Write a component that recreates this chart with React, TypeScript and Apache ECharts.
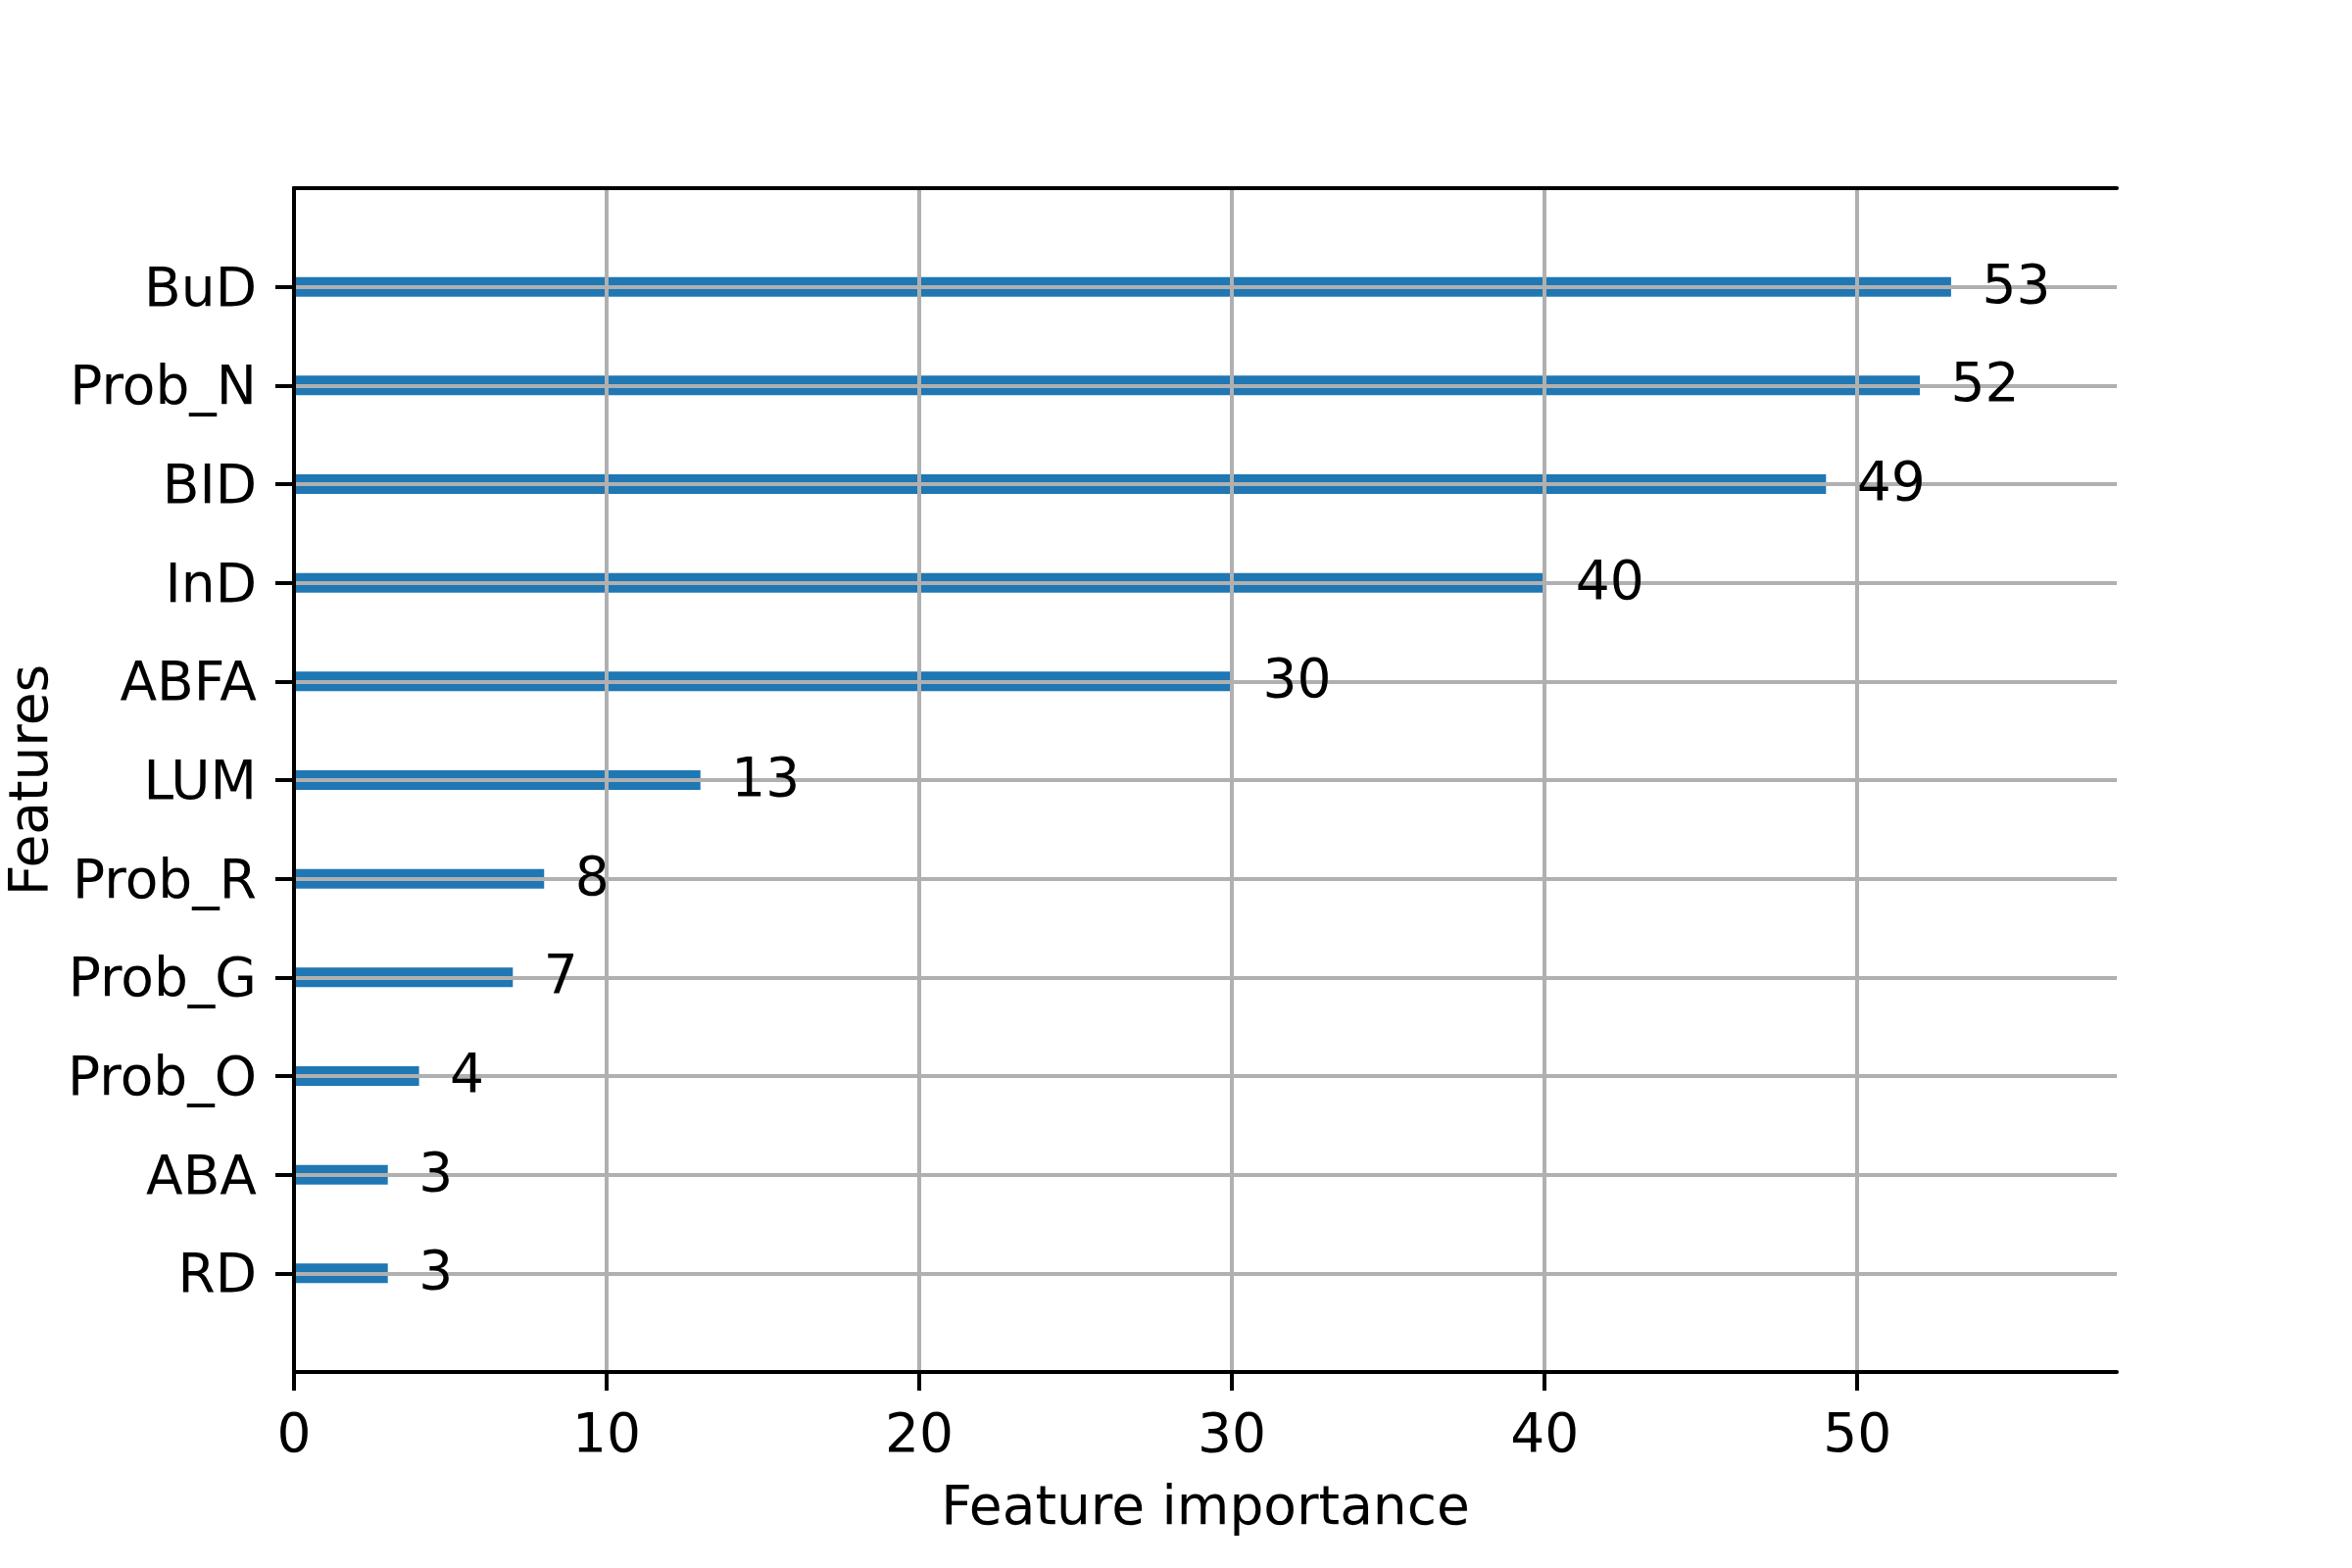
import React, { useEffect, useRef } from "react";
import * as echarts from "echarts";

// Features from bottom to top, with their importance values
const features = ["RD", "ABA", "Prob_O", "Prob_G", "Prob_R", "LUM", "ABFA", "InD", "BID", "Prob_N", "BuD"];
const importance = [3, 3, 4, 7, 8, 13, 30, 40, 49, 52, 53];
const xTicks = [0, 10, 20, 30, 40, 50];
const xMax = 58.3;

const FONT = "DejaVu Sans";
const FS = 55;
const BLUE = "#1f77b4";
const GRID = "#b0b0b0";

export default function App() {
  const ref = useRef<HTMLDivElement>(null);

  useEffect(() => {
    if (!ref.current) return;
    const chart = echarts.init(ref.current, null, { renderer: "svg" });
    const cats = ["", ...features, ""];
    const barData = [null, ...importance, null];
    const labelData = features.map((f, i) => [importance[i], f]);

    const option: any = {
      animation: false,
      backgroundColor: "#ffffff",
      textStyle: { fontFamily: FONT },
      grid: { left: 300, right: 240, top: 192, bottom: 200, containLabel: false, outerBoundsMode: "none" },
      xAxis: [
        {
          type: "value",
          min: 0,
          max: xMax,
          interval: 10,
          position: "bottom",
          z: 5,
          name: "Feature importance",
          nameLocation: "middle",
          nameGap: 108,
          nameTextStyle: { fontFamily: FONT, fontSize: FS, color: "#000" },
          axisLine: { show: true, lineStyle: { color: "#000", width: 4 } },
          axisTick: { show: true, length: 19, lineStyle: { color: "#000", width: 4 }, customValues: xTicks },
          axisLabel: { show: true, margin: 34, fontFamily: FONT, fontSize: FS, color: "#000", customValues: xTicks },
          splitLine: { show: true, lineStyle: { color: GRID, width: 4 } },
        },
        {
          type: "value",
          min: 0,
          max: xMax,
          position: "top",
          z: 5,
          axisLine: { show: true, lineStyle: { color: "#000", width: 4 } },
          axisTick: { show: false },
          axisLabel: { show: false },
          splitLine: { show: false },
        },
      ],
      yAxis: [
        {
          type: "category",
          data: cats,
          boundaryGap: false,
          position: "left",
          z: 5,
          name: "Features",
          nameLocation: "middle",
          nameRotate: 90,
          nameGap: 244,
          nameTextStyle: { fontFamily: FONT, fontSize: FS, color: "#000" },
          axisLine: { show: true, lineStyle: { color: "#000", width: 4 } },
          axisTick: {
            show: true,
            length: 19,
            lineStyle: { color: "#000", width: 4 },
            interval: (idx: number, val: string) => val !== "",
          },
          axisLabel: {
            show: true,
            margin: 38,
            fontFamily: FONT,
            fontSize: FS,
            color: "#000",
            interval: (idx: number, val: string) => val !== "",
          },
          splitLine: {
            show: true,
            lineStyle: { color: GRID, width: 4 },
            interval: (idx: number, val: string) => val !== "",
          },
        },
        {
          type: "category",
          data: cats,
          boundaryGap: false,
          position: "right",
          z: 5,
          axisLine: { show: true, lineStyle: { color: "#000", width: 4 } },
          axisTick: { show: false },
          axisLabel: { show: false },
          splitLine: { show: false },
        },
      ],
      series: [
        {
          type: "bar",
          xAxisIndex: 0,
          yAxisIndex: 0,
          data: barData,
          barWidth: 20,
          z: 1,
          itemStyle: { color: BLUE },
          silent: true,
        },
        {
          type: "scatter",
          xAxisIndex: 0,
          yAxisIndex: 0,
          data: labelData,
          symbolSize: 1,
          itemStyle: { color: "rgba(0,0,0,0)" },
          z: 10,
          label: {
            show: true,
            position: "right",
            distance: 31,
            offset: [0, -3],
            fontFamily: FONT,
            fontSize: FS,
            color: "#000000",
            opacity: 1,
            textBorderWidth: 0,
            formatter: (p: any) => String(p.value[0]),
          },
          silent: true,
        },
      ],
    };
    chart.setOption(option);
    return () => chart.dispose();
  }, []);

  return (
    <div
      ref={ref}
      style={{ position: "absolute", left: 0, top: 0, width: 2400, height: 1600, background: "#fff" }}
    />
  );
}
